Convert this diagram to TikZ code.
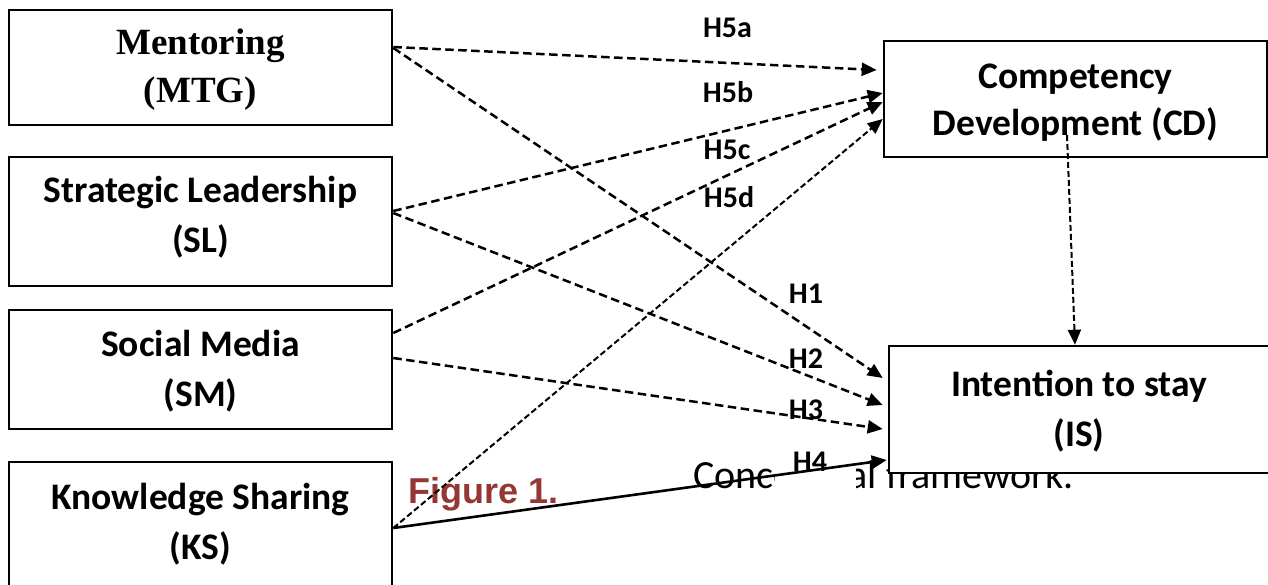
\documentclass[tikz,border=0pt]{standalone}
\usepackage{fontspec}
\setmainfont{Carlito}
\newfontfamily\timesfont{Liberation Serif}
\newfontfamily\arialfont{Liberation Sans}
\usetikzlibrary{arrows.meta}
\definecolor{figred}{HTML}{953735}
\begin{document}
\begin{tikzpicture}[x=1pt,y=-1pt,
  box/.style={draw=black, line width=2.6pt, fill=white, rectangle, inner sep=0pt, minimum width=383pt},
  boxtext/.style={align=center, font=\bfseries\fontsize{37.5}{50}\selectfont, inner sep=0pt},
  hlabel/.style={font=\bfseries\fontsize{30}{36}\selectfont, inner sep=0pt},
  dep/.style={line width=2.5pt, dash pattern=on 8.5pt off 4.5pt, -{Triangle[length=15pt,width=13pt]}},
  depthin/.style={line width=2pt, dash pattern=on 6pt off 3pt, -{Triangle[length=15pt,width=13pt]}},
  solidarrow/.style={line width=2.6pt, -{Triangle[length=15pt,width=13pt]}}
]
\useasboundingbox (0,0) rectangle (1268,584);

% caption (partly hidden)
\node[anchor=base west, inner sep=0pt, font=\arialfont\bfseries\fontsize{36}{40}\selectfont, text=figred] (figlab) at (408,503) {Figure 1.};
\node[anchor=base west, inner sep=0pt, font=\fontsize{40}{44}\selectfont] (figcap) at (693,488) {Conceptual framework.};

% hypothesis labels
\node[fill=white, minimum width=81pt, minimum height=56pt, inner sep=0pt] (h4bg) at (815.5,470) {};
\node[hlabel] (h5a) at (727.5,28) {H5a};
\node[hlabel] (h5b) at (728,92) {H5b};
\node[hlabel] (h5c) at (727,150) {H5c};
\node[hlabel] (h5d) at (729,197) {H5d};
\node[hlabel] (h1) at (806,294) {H1};
\node[hlabel] (h2) at (806,359) {H2};
\node[hlabel] (h3) at (806,410) {H3};
\node[hlabel] (h4) at (810,462) {H4};

% boxes
\node[box, minimum height=115pt] (mtg) at (200.5,67.5) {};
\node[box, minimum height=129pt] (sl) at (200.5,221.5) {};
\node[box, minimum height=119pt] (sm) at (200.5,369.5) {};
\node[box, minimum height=136pt] (ks) at (200.5,530) {};
\node[box, minimum height=116pt] (cd) at (1075.5,99) {};
\node[box, minimum height=127pt] (is) at (1080.5,409.5) {};

\node[boxtext, font=\timesfont\bfseries\fontsize{37}{48}\selectfont] (mtgt) at (200.5,70) {Mentoring\\(MTG)};
\node[boxtext] (slt) at (200.5,217.5) {Strategic Leadership\\(SL)};
\node[boxtext] (smt) at (200.5,371.5) {Social Media\\(SM)};
\node[boxtext] (kst) at (200.5,524.5) {Knowledge Sharing\\(KS)};
\node[boxtext, font=\bfseries\fontsize{37.5}{47}\selectfont] (cdt) at (1075.5,103) {Competency\\Development (CD)};
\node[boxtext] (ist) at (1079,411) {Intention to stay\\(IS)};

% connectors
\draw[dep] ([yshift=20.5pt]mtg.east) -- ([xshift=-6pt,yshift=29pt]cd.west);
\draw[dep] ([yshift=19.5pt]mtg.east) -- ([xshift=-5pt,yshift=31.5pt]is.west);
\draw[dep] ([yshift=10.5pt]sl.east) -- ([yshift=6pt]cd.west);
\draw[dep] ([yshift=8.5pt]sl.east) -- ([xshift=-5pt,yshift=4.5pt]is.west);
\draw[dep] ([yshift=36.5pt]sm.east) -- ([yshift=-3pt]cd.west);
\draw[dep] ([yshift=11.5pt]sm.east) -- ([xshift=-5pt,yshift=-19.5pt]is.west);
\draw[depthin] ([yshift=2pt]ks.east) -- ([yshift=-20pt]cd.west);
\draw[solidarrow] ([yshift=2pt]ks.east) -- ([xshift=-1pt,yshift=-50.5pt]is.west);
\draw[depthin] ([xshift=-8.5pt,yshift=-36pt]cd.center) -- ([xshift=-5.5pt]is.north);
\end{tikzpicture}
\end{document}
